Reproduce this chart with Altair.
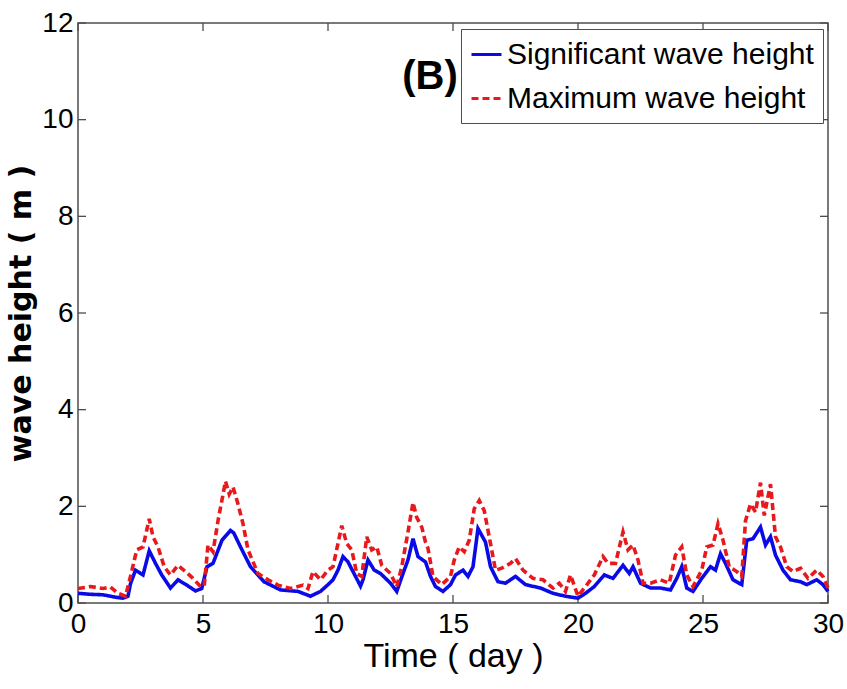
import altair as alt
import pandas as pd

# ---- data ----
sig_day = [0, 0.5, 1.0, 1.5, 1.8, 2.0, 2.1, 2.3, 2.6, 2.85, 3.1, 3.35, 3.7, 4.0, 4.35, 4.7, 4.95, 5.16, 5.4, 5.76,
           6.1, 6.23, 6.5, 6.9, 7.44, 8.1, 8.8, 9.3, 9.7, 10.0, 10.2, 10.4, 10.6, 10.8, 11.1, 11.3, 11.4, 11.6, 11.85, 12.1,
           12.5, 12.75, 13.0, 13.2, 13.4, 13.6, 13.9, 14.1, 14.3, 14.6, 14.9, 15.1, 15.4, 15.6, 15.8, 16.0, 16.3, 16.5, 16.8, 17.1,
           17.5, 17.9, 18.5, 19.0, 19.5, 20.0, 20.3, 20.65, 21.05, 21.4, 21.8, 22.05, 22.2, 22.5, 22.9, 23.3, 23.7, 23.95, 24.15, 24.35,
           24.6, 24.95, 25.3, 25.5, 25.7, 25.9, 26.2, 26.55, 26.75, 27.0, 27.3, 27.5, 27.7, 27.9, 28.2, 28.5, 28.9, 29.15, 29.55, 29.8, 30.0]
sig_h = [0.2, 0.18, 0.17, 0.12, 0.1, 0.14, 0.4, 0.68, 0.58, 1.08, 0.82, 0.58, 0.31, 0.48, 0.37, 0.25, 0.3, 0.75, 0.82, 1.3,
         1.5, 1.45, 1.16, 0.75, 0.44, 0.27, 0.24, 0.14, 0.24, 0.38, 0.48, 0.68, 0.96, 0.85, 0.55, 0.35, 0.48, 0.89, 0.68, 0.61,
         0.41, 0.24, 0.61, 0.89, 1.33, 0.96, 0.85, 0.55, 0.34, 0.24, 0.38, 0.58, 0.68, 0.55, 0.75, 1.54, 1.26, 0.75, 0.44, 0.41,
         0.55, 0.38, 0.31, 0.2, 0.14, 0.1, 0.2, 0.34, 0.58, 0.51, 0.78, 0.61, 0.75, 0.41, 0.31, 0.31, 0.27, 0.51, 0.75, 0.31,
         0.24, 0.51, 0.75, 0.68, 1.02, 0.82, 0.48, 0.38, 1.3, 1.33, 1.57, 1.2, 1.37, 0.99, 0.68, 0.48, 0.44, 0.38, 0.48, 0.38, 0.24]

max_day = [0, 0.5, 1.0, 1.3, 1.6, 1.9, 2.1, 2.35, 2.6, 2.85, 3.0, 3.2, 3.45, 3.7, 4.0, 4.3, 4.6, 4.9, 5.05, 5.2,
           5.4, 5.6, 5.9, 6.05, 6.2, 6.4, 6.6, 6.8, 7.2, 7.6, 8.0, 8.5, 9.0, 9.2, 9.4, 9.7, 10.0, 10.2, 10.55, 10.75,
           10.95, 11.15, 11.35, 11.55, 11.75, 11.95, 12.15, 12.5, 12.75, 12.95, 13.2, 13.4, 13.55, 13.75, 13.9, 14.0, 14.2, 14.55, 14.9, 15.05,
           15.25, 15.45, 15.65, 15.85, 16.05, 16.25, 16.5, 16.7, 16.95, 17.3, 17.5, 17.8, 18.2, 18.6, 19.0, 19.25, 19.5, 19.7, 20.0, 20.3,
           20.65, 21.0, 21.2, 21.5, 21.8, 22.0, 22.2, 22.4, 22.6, 22.9, 23.3, 23.65, 23.9, 24.15, 24.35, 24.6, 24.95, 25.15, 25.4, 25.6,
           25.8, 26.05, 26.35, 26.55, 26.7, 26.9, 27.1, 27.3, 27.45, 27.7, 27.9, 28.1, 28.35, 28.6, 28.9, 29.2, 29.55, 29.8, 30.0]
max_h = [0.3, 0.34, 0.3, 0.33, 0.2, 0.14, 0.55, 1.1, 1.16, 1.74, 1.37, 1.16, 0.75, 0.58, 0.78, 0.65, 0.51, 0.34, 0.36, 1.2,
         1.06, 1.7, 2.52, 2.25, 2.4, 2.05, 1.64, 1.1, 0.61, 0.48, 0.37, 0.3, 0.37, 0.3, 0.65, 0.48, 0.68, 0.75, 1.6, 1.23,
         1.1, 0.61, 0.55, 1.37, 1.1, 1.16, 0.78, 0.61, 0.34, 0.75, 1.47, 2.08, 1.77, 1.57, 1.26, 1.13, 0.55, 0.38, 0.55, 0.89,
         1.16, 1.06, 1.3, 1.95, 2.12, 1.91, 1.23, 0.68, 0.72, 0.82, 0.92, 0.68, 0.51, 0.48, 0.31, 0.41, 0.24, 0.58, 0.14, 0.34,
         0.58, 0.96, 0.82, 0.82, 1.47, 1.1, 1.2, 0.89, 0.41, 0.41, 0.48, 0.41, 0.99, 1.16, 0.58, 0.34, 0.68, 1.16, 1.2, 1.64,
         1.3, 0.75, 0.65, 0.55, 1.7, 2.05, 1.88, 2.49, 1.81, 2.46, 1.37, 1.16, 0.75, 0.65, 0.72, 0.51, 0.68, 0.55, 0.31]

series_names = ["Significant wave height", "Maximum wave height"]
series_colors = ["#0a0ae6", "#e8191c"]
x_ticks = [0, 5, 10, 15, 20, 25, 30]
y_ticks = [0, 2, 4, 6, 8, 10, 12]
panel_label = "(B)"

# ---- build ----
W, H = 750, 580
SANS = "'Liberation Sans', Arial, sans-serif"
FRAME = "#4d4d4d"

lines_df = pd.concat([
    pd.DataFrame({"day": sig_day, "h": sig_h, "series": series_names[0], "ord": 0}),
    pd.DataFrame({"day": max_day, "h": max_h, "series": series_names[1], "ord": 1}),
])

xs = alt.Scale(domain=[0, 30], nice=False, zero=False)
ys = alt.Scale(domain=[0, 12], nice=False)
xa = alt.Axis(values=x_ticks, title="Time ( day )", ticks=False, domain=False, grid=False,
              labelFont=SANS, labelFontSize=28, labelColor="black", labelPadding=7,
              labelOverlap=False, labelFlush=False,
              titleFont=SANS, titleFontSize=34, titleFontWeight="normal", titleColor="black",
              titlePadding=1)
ya = alt.Axis(values=y_ticks, title="wave height ( m )", ticks=False, domain=False, grid=False,
              labelFont=SANS, labelFontSize=28, labelColor="black", labelPadding=5,
              labelOverlap=False, labelFlush=False,
              titleFont="DejaVu Sans", titleFontSize=30, titleFontWeight="bold", titleColor="black",
              titlePadding=5)

leg = alt.Legend(orient="none", legendX=383, legendY=6, title=None,
                 labelFont=SANS, labelFontSize=30, labelColor="black", labelLimit=0, labelOffset=4,
                 symbolType="stroke", symbolSize=900, symbolStrokeWidth=3,
                 strokeColor=FRAME, fillColor="white", padding=9, rowPadding=12, cornerRadius=0)

lines = alt.Chart(lines_df).mark_line(strokeWidth=3.6).encode(
    x=alt.X("day:Q", scale=xs, axis=xa),
    y=alt.Y("h:Q", scale=ys, axis=ya),
    color=alt.Color("series:N", scale=alt.Scale(domain=series_names, range=series_colors), legend=leg),
    strokeDash=alt.StrokeDash("series:N", scale=alt.Scale(domain=series_names, range=[[1, 0], [7, 4]]), legend=leg),
    order="ord:Q",
)

xt = pd.DataFrame({"day": x_ticks})
yt = pd.DataFrame({"h": y_ticks})
tick_style = dict(color=FRAME, strokeWidth=1.3)

bottom_ticks = alt.Chart(xt).mark_rule(**tick_style).encode(
    x=alt.X("day:Q", scale=xs, axis=xa), y=alt.value(H), y2=alt.value(H - 8))
top_ticks = alt.Chart(xt).mark_rule(**tick_style).encode(
    x=alt.X("day:Q", scale=xs, axis=xa), y=alt.value(0), y2=alt.value(8))
left_ticks = alt.Chart(yt).mark_rule(**tick_style).encode(
    y=alt.Y("h:Q", scale=ys, axis=ya), x=alt.value(0), x2=alt.value(8))
right_ticks = alt.Chart(yt).mark_rule(**tick_style).encode(
    y=alt.Y("h:Q", scale=ys, axis=ya), x=alt.value(W), x2=alt.value(W - 8))

label = alt.Chart(pd.DataFrame({"t": [panel_label]})).mark_text(
    font=SANS, fontWeight="bold", fontSize=40, color="black", align="center", baseline="middle"
).encode(text="t:N", x=alt.value(352), y=alt.value(54))

chart = alt.layer(bottom_ticks, top_ticks, left_ticks, right_ticks, lines, label).properties(
    width=W, height=H,
    padding={"left": 78, "top": 23, "right": 19, "bottom": 86},
    autosize=alt.AutoSizeParams(type="none"),
    background="white",
).configure_view(stroke=FRAME, strokeWidth=1.5)

chart.save("out.html", embed_options={"renderer": "svg", "actions": False})
